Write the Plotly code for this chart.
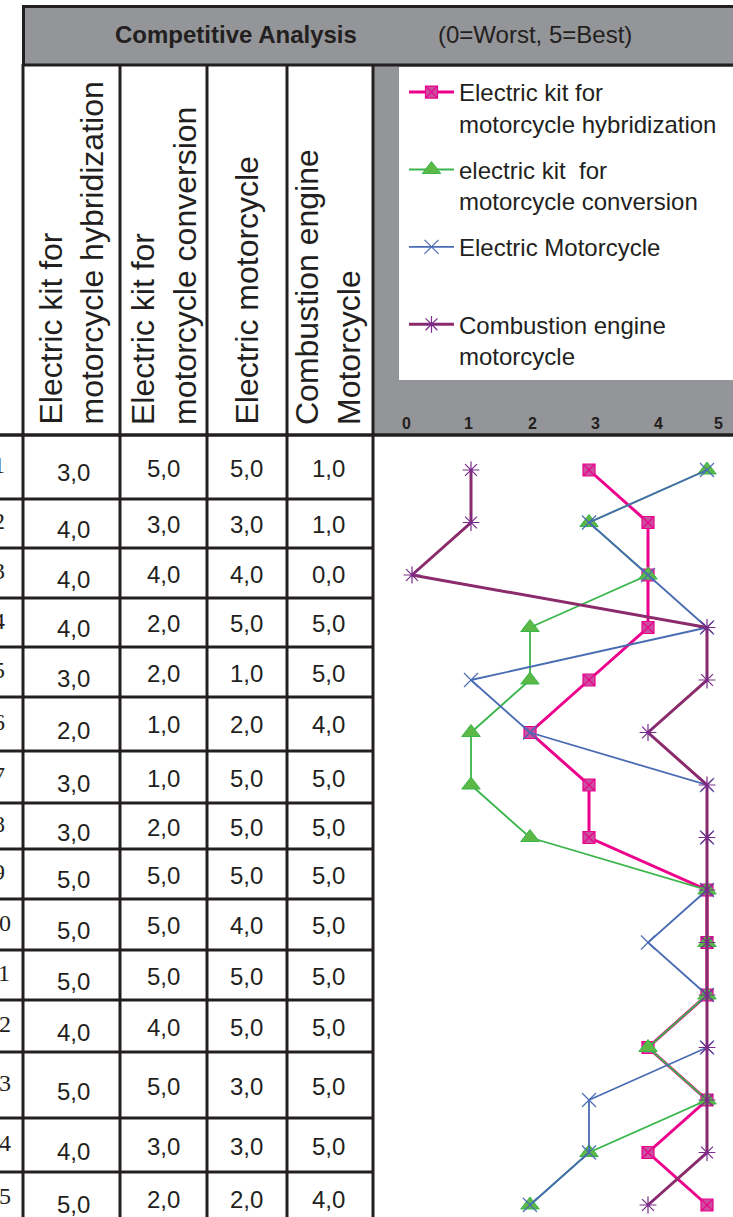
import plotly.graph_objects as go

# ---------------- data ----------------
criteria = list(range(1, 16))
hybridization = [3, 4, 4, 4, 3, 2, 3, 3, 5, 5, 5, 4, 5, 4, 5]
conversion = [5, 3, 4, 2, 2, 1, 1, 2, 5, 5, 5, 4, 5, 3, 2]
electric_moto = [5, 3, 4, 5, 1, 2, 5, 5, 5, 4, 5, 5, 3, 3, 2]
combustion = [1, 1, 0, 5, 5, 4, 5, 5, 5, 5, 5, 5, 5, 5, 4]
column_headers = [
    "Electric kit for<br>motorcycle hybridization",
    "Electric kit for<br>motorcycle conversion",
    "Electric motorcycle",
    "Combustion engine<br>Motorcycle",
]
legend_names = [
    "Electric kit for<br>motorcycle hybridization",
    "electric kit  for<br>motorcycle conversion",
    "Electric Motorcycle<br>\u00a0",
    "Combustion engine<br>motorcycle",
]
scale_ticks = [0, 1, 2, 3, 4, 5]
title_text = "Competitive Analysis"
subtitle_text = "(0=Worst, 5=Best)"

# ---------------- layout constants (pixels) ----------------
W, H = 733, 1217
DARK = "#231F20"
GRAY = "#939598"
SANS = "Liberation Sans, Arial, sans-serif"
SERIF = "Liberation Serif, Times New Roman, serif"


def fx(x):
    return x / W


def fy(y):
    return 1 - y / H


col_lines = [23, 120, 207, 287, 373]
col_text_x = [73, 163, 246, 328]
header_text_x = [73.5, 165.5, 248.5, 329.5]
row_bounds = [435, 499, 548, 598, 647, 697, 751, 803, 849, 899, 950, 1000, 1052, 1118, 1172, 1225]
tick_px = [406, 468.5, 532, 595, 658, 718]

# chart pixel mapping: value 0 -> 412px, 5 -> 707px ; row 1 -> 470px, row 15 -> 1205px
X0PX, XSTEP = 412, 59.0
Y1PX, YSTEP = 470, 52.5
dom_x0, dom_x1 = 375, 733
dom_y0, dom_y1 = 437, 1217
xr = [(dom_x0 - X0PX) / XSTEP, (dom_x1 - X0PX) / XSTEP]
yr = [1 + (dom_y1 - Y1PX) / YSTEP, 1 + (dom_y0 - Y1PX) / YSTEP]

fig = go.Figure()

series = [
    (hybridization, legend_names[0], dict(color="#EC008C", width=3),
     dict(symbol="square-x", size=12, color="#C8509E", line=dict(color="#EC008C", width=1.2))),
    (conversion, legend_names[1], dict(color="#39B54A", width=1.8),
     dict(symbol="triangle-up", size=16, color="#5DB947", line=dict(color="#39B54A", width=1))),
    (electric_moto, legend_names[2], dict(color="#4A6CB3", width=1.8),
     dict(symbol="x-thin", size=14, color="#4A6CB3", line=dict(color="#4A6CB3", width=1.2))),
    (combustion, legend_names[3], dict(color="#8B2B6B", width=3),
     dict(symbol="asterisk", size=14, color="#7A2A8A", line=dict(color="#7A2A8A", width=1.2))),
]
for i, (vals, name, ln, mk) in enumerate(series):
    fig.add_trace(go.Scatter(
        x=vals, y=criteria, mode="lines+markers", name=name,
        line=ln, marker=mk, legendgroup=f"g{i}", cliponaxis=False,
    ))

shapes = []
# title bar
shapes.append(dict(type="rect", xref="paper", yref="paper", x0=fx(22), x1=fx(733), y0=fy(5), y1=fy(66),
                   fillcolor=GRAY, line=dict(width=0), layer="below"))
# chart header panel
shapes.append(dict(type="rect", xref="paper", yref="paper", x0=fx(373), x1=fx(733), y0=fy(66), y1=fy(435),
                   fillcolor=GRAY, line=dict(width=0), layer="below"))
# legend box
shapes.append(dict(type="rect", xref="paper", yref="paper", x0=fx(399), x1=fx(734), y0=fy(67), y1=fy(380),
                   fillcolor="white", line=dict(width=0), layer="below"))
# title bar borders
for (x0, y0, x1, y1) in [(22, 6.5, 733, 6.5), (23.5, 5, 23.5, 66), (22, 65, 733, 65)]:
    shapes.append(dict(type="line", xref="paper", yref="paper", x0=fx(x0), x1=fx(x1), y0=fy(y0), y1=fy(y1),
                       line=dict(color=DARK, width=3)))
# vertical table lines
for x in col_lines:
    shapes.append(dict(type="line", xref="paper", yref="paper", x0=fx(x), x1=fx(x), y0=fy(64), y1=fy(1217),
                       line=dict(color=DARK, width=3)))
# header bottom line
shapes.append(dict(type="line", xref="paper", yref="paper", x0=0, x1=1, y0=fy(435), y1=fy(435),
                   line=dict(color=DARK, width=3.5)))
# row lines
for yb in row_bounds[1:-1]:
    shapes.append(dict(type="line", xref="paper", yref="paper", x0=0, x1=fx(372), y0=fy(yb), y1=fy(yb),
                       line=dict(color=DARK, width=3)))

ann = []
ann.append(dict(text=f"<b>{title_text}</b>", x=fx(236), y=fy(35), xref="paper", yref="paper",
                showarrow=False, font=dict(family=SANS, size=24, color=DARK), xanchor="center", yanchor="middle"))
ann.append(dict(text=subtitle_text, x=fx(534.5), y=fy(35), xref="paper", yref="paper",
                showarrow=False, font=dict(family=SANS, size=24, color=DARK), xanchor="center", yanchor="middle"))
# rotated column headers
for txt, x in zip(column_headers, header_text_x):
    ann.append(dict(text=txt, x=fx(x - 1.5), y=fy(427), xref="paper", yref="paper", showarrow=False,
                    textangle=-90, align="left", xanchor="center", yanchor="bottom",
                    font=dict(family=SANS, size=32, color=DARK)))
# scale tick labels
for t, x in zip(scale_ticks, tick_px):
    ann.append(dict(text=f"<b>{t}</b>", x=fx(x), y=fy(423.5), xref="paper", yref="paper", showarrow=False,
                    xanchor="center", yanchor="middle", font=dict(family=SANS, size=16, color=DARK)))
# table values and row numbers
cols = [hybridization, conversion, electric_moto, combustion]
for r, crit in enumerate(criteria):
    yc = (row_bounds[r] + row_bounds[r + 1]) / 2
    if r == len(criteria) - 1:
        yc = 1198
    ann.append(dict(text=str(crit), x=fx(-1.5), y=fy(yc - 2), xref="paper", yref="paper", showarrow=False,
                    xanchor="center", yanchor="middle", font=dict(family=SERIF, size=24, color=DARK)))
    for c, vals in enumerate(cols):
        off = 6 if c == 0 else 1
        ann.append(dict(text=f"{vals[r]:.1f}".replace(".", ","), x=fx(col_text_x[c]), y=fy(yc + off),
                        xref="paper", yref="paper", showarrow=False, xanchor="center", yanchor="middle",
                        font=dict(family=SANS, size=24, color=DARK)))

fig.update_layout(
    width=W, height=H,
    margin=dict(l=0, r=0, t=0, b=0),
    paper_bgcolor="white", plot_bgcolor="rgba(0,0,0,0)",
    shapes=shapes, annotations=ann,
    xaxis=dict(domain=[fx(dom_x0), fx(dom_x1)], range=xr, visible=False, fixedrange=True),
    yaxis=dict(domain=[fy(dom_y1), fy(dom_y0)], range=yr, visible=False, fixedrange=True),
    showlegend=True,
    legend=dict(x=fx(404), y=fy(70), xanchor="left", yanchor="top", bgcolor="rgba(0,0,0,0)",
                font=dict(family=SANS, size=24, color=DARK), valign="top", itemwidth=45,
                tracegroupgap=12, traceorder="grouped", borderwidth=0),
)

fig.write_html("out.html", config={"displayModeBar": False},
               post_script="document.body.style.margin='0';document.body.style.overflow='hidden';")
